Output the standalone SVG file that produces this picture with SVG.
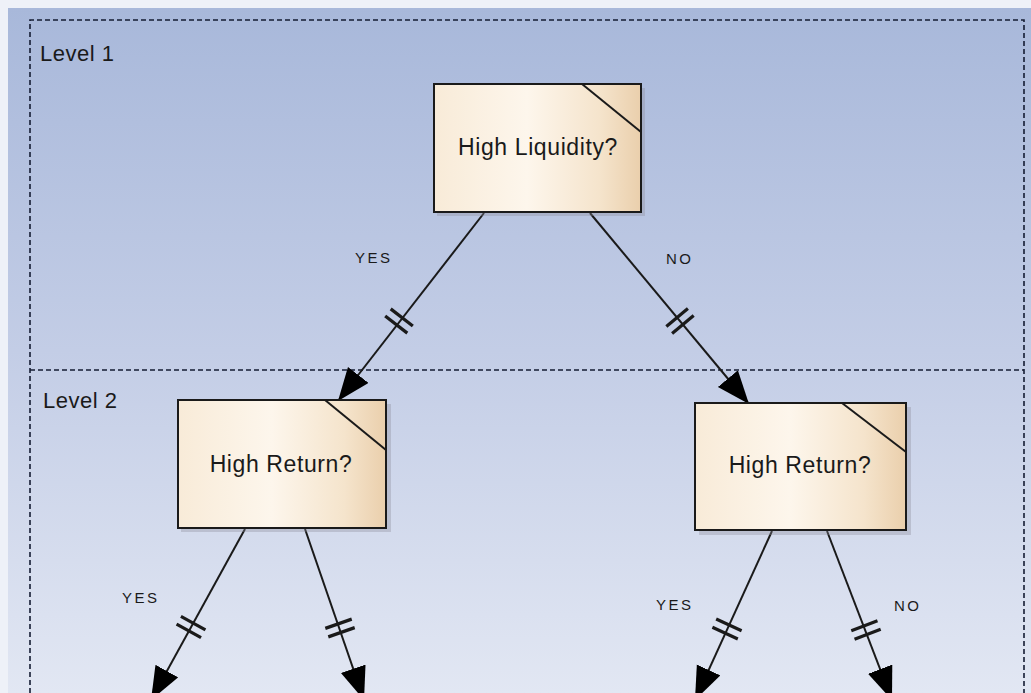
<svg xmlns="http://www.w3.org/2000/svg" width="1031" height="693" viewBox="0 0 1031 693">
<defs>
<linearGradient id="bg" x1="0" y1="0" x2="0" y2="1">
<stop offset="0" stop-color="#a8b8da"/>
<stop offset="0.5" stop-color="#c3cde6"/>
<stop offset="1" stop-color="#e2e7f3"/>
</linearGradient>
<linearGradient id="nodefill" x1="0" y1="0" x2="1" y2="0">
<stop offset="0" stop-color="#f8ebd8"/>
<stop offset="0.45" stop-color="#fdf6ec"/>
<stop offset="0.8" stop-color="#f5e4cc"/>
<stop offset="1" stop-color="#eacfac"/>
</linearGradient>
<marker id="arrow" markerUnits="userSpaceOnUse" markerWidth="36" markerHeight="28" refX="33" refY="13" orient="auto">
<path d="M0,0 L33,13 L0,26 Z" fill="#000"/>
</marker>
<g id="ticks">
<line x1="-4.5" y1="-14" x2="-4.5" y2="14"/>
<line x1="4.5" y1="-14" x2="4.5" y2="14"/>
</g>
</defs>
<style>
.frame{fill:none;stroke:#141c33;stroke-width:1.6;stroke-dasharray:5 3}
.node rect.box{fill:url(#nodefill);stroke:#1a1a1a;stroke-width:2}
.node rect.shadow{fill:#8c8c9c;opacity:0.35}
.node line{stroke:#1a1a1a;stroke-width:2}
.ntext{font-family:"Liberation Sans",Arial,sans-serif;font-size:23px;fill:#1a1a1a;text-anchor:middle;letter-spacing:0.6px}
.lvl{font-family:"Liberation Sans",Arial,sans-serif;font-size:22px;fill:#1a1a1a;letter-spacing:0.5px}
.elabel{font-family:"Liberation Sans",Arial,sans-serif;font-size:15px;fill:#1a1a1a;letter-spacing:2.5px}
.edge{stroke:#1a1a1a;stroke-width:2;fill:none}
.tk{stroke:#1a1a1a;stroke-width:3.2}
</style>
<rect x="0" y="0" width="1031" height="693" fill="#eef1f8"/>
<rect x="8" y="8" width="1023" height="685" fill="url(#bg)"/>
<g id="level1">
<path class="frame" d="M30,693 L30,20 L1024,20 L1024,693"/>
<text class="lvl" x="40" y="61">Level 1</text>
</g>
<g id="level2">
<line class="frame" x1="30" y1="370" x2="1024" y2="370"/>
<text class="lvl" x="43" y="408">Level 2</text>
</g>
<g id="connectors">
<line class="edge" x1="484" y1="213" x2="338" y2="401" marker-end="url(#arrow)"/>
<line class="edge" x1="590" y1="213" x2="749" y2="404" marker-end="url(#arrow)"/>
<line class="edge" x1="245" y1="529" x2="151" y2="700" marker-end="url(#arrow)"/>
<line class="edge" x1="305" y1="529" x2="364" y2="700" marker-end="url(#arrow)"/>
<line class="edge" x1="772" y1="531" x2="695" y2="700" marker-end="url(#arrow)"/>
<line class="edge" x1="827" y1="531" x2="892" y2="700" marker-end="url(#arrow)"/>
<use href="#ticks" class="tk" transform="translate(399,321) rotate(127.8)"/>
<use href="#ticks" class="tk" transform="translate(680,321) rotate(50.3)"/>
<use href="#ticks" class="tk" transform="translate(191,627) rotate(119)"/>
<use href="#ticks" class="tk" transform="translate(340,628) rotate(70.7)"/>
<use href="#ticks" class="tk" transform="translate(727,629) rotate(114.7)"/>
<use href="#ticks" class="tk" transform="translate(866,630) rotate(69.2)"/>
<text class="elabel" x="355" y="263">YES</text>
<text class="elabel" x="666" y="264">NO</text>
<text class="elabel" x="122" y="603">YES</text>
<text class="elabel" x="656" y="610">YES</text>
<text class="elabel" x="894" y="611">NO</text>
</g>
<g id="node-liquidity" class="node">
<rect class="shadow" x="437" y="88" width="208" height="128"/>
<rect class="box" x="434" y="84" width="207" height="128"/>
<line x1="582" y1="84" x2="641" y2="132"/>
<text class="ntext" x="538" y="155">High Liquidity?</text>
</g>
<g id="node-return-left" class="node">
<rect class="shadow" x="181" y="404" width="210" height="128"/>
<rect class="box" x="178" y="400" width="208" height="128"/>
<line x1="325" y1="400" x2="386" y2="450"/>
<text class="ntext" x="281" y="472">High Return?</text>
</g>
<g id="node-return-right" class="node">
<rect class="shadow" x="699" y="407" width="212" height="128"/>
<rect class="box" x="695" y="403" width="211" height="127"/>
<line x1="842" y1="403" x2="906" y2="452"/>
<text class="ntext" x="800" y="473">High Return?</text>
</g>
</svg>
